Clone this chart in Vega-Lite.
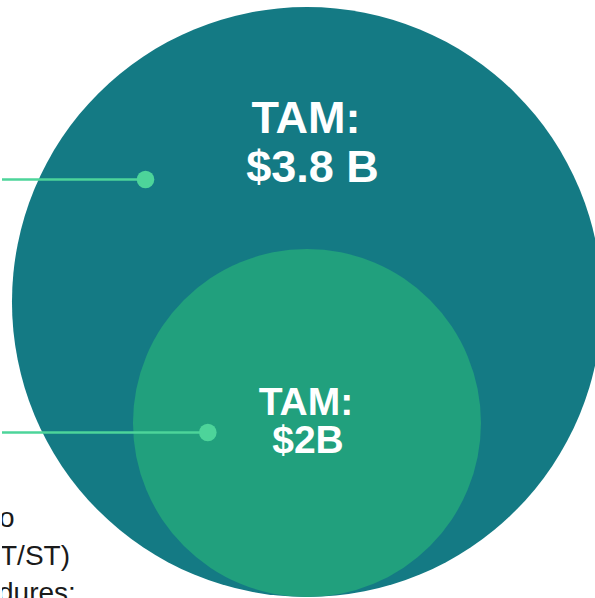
{
  "$schema": "https://vega.github.io/schema/vega-lite/v6.json",
  "width": 595,
  "height": 598,
  "autosize": {"type": "fit", "contains": "padding"},
  "padding": 0,
  "background": "white",
  "config": {"view": {"stroke": null}},
  "datasets": {
    "circles": [
      {"market": "Total", "x": 306, "y": 302},
      {"market": "Segment", "x": 306, "y": 423}
    ],
    "callouts": [
      {"market": "Total", "x0": 0, "x": 144, "y": 179.5},
      {"market": "Segment", "x0": 0, "x": 206.5, "y": 432.5}
    ],
    "labels": [
      {"market": "Total", "text": "TAM:", "x": 305, "y": 133},
      {"market": "Total", "text": "$3.8 B", "x": 311.5, "y": 182},
      {"market": "Segment", "text": "TAM:", "x": 305, "y": 415},
      {"market": "Segment", "text": "$2B", "x": 307, "y": 453}
    ],
    "notes": [
      {"text": "o", "x": -3, "y": 527},
      {"text": "T/ST)", "x": -2, "y": 565},
      {"text": "dures:", "x": -4, "y": 602}
    ]
  },
  "encoding": {
    "x": {"field": "x", "type": "quantitative", "scale": {"domain": [0, 595]}, "axis": null},
    "y": {"field": "y", "type": "quantitative", "scale": {"domain": [0, 598], "reverse": true}, "axis": null}
  },
  "layer": [
    {
      "data": {"name": "circles"},
      "transform": [{"filter": "datum.market === 'Total'"}],
      "mark": {"type": "point", "shape": "circle", "filled": true, "opacity": 1, "color": "#147A84", "size": 348100, "strokeWidth": 0, "clip": true}
    },
    {
      "data": {"name": "circles"},
      "transform": [{"filter": "datum.market === 'Segment'"}],
      "mark": {"type": "point", "shape": "circle", "filled": true, "opacity": 1, "color": "#21A07D", "size": 121104, "strokeWidth": 0, "clip": true}
    },
    {
      "data": {"name": "callouts"},
      "mark": {"type": "rule", "color": "#4DD49A", "strokeWidth": 2.5},
      "encoding": {
        "x": {"field": "x0", "type": "quantitative", "scale": {"domain": [0, 595]}, "axis": null},
        "x2": {"field": "x"}
      }
    },
    {
      "data": {"name": "callouts"},
      "mark": {"type": "point", "shape": "circle", "filled": true, "opacity": 1, "color": "#4DD49A", "size": 310, "strokeWidth": 0}
    },
    {
      "data": {"name": "labels"},
      "transform": [{"filter": "datum.market === 'Total'"}],
      "mark": {"type": "text", "font": "Liberation Sans", "fontWeight": "bold", "fontSize": 45, "color": "white", "align": "center", "baseline": "alphabetic"},
      "encoding": {"text": {"field": "text"}}
    },
    {
      "data": {"name": "labels"},
      "transform": [{"filter": "datum.market === 'Segment'"}],
      "mark": {"type": "text", "font": "Liberation Sans", "fontWeight": "bold", "fontSize": 39, "color": "white", "align": "center", "baseline": "alphabetic"},
      "encoding": {"text": {"field": "text"}}
    },
    {
      "data": {"name": "notes"},
      "mark": {"type": "text", "font": "Liberation Sans", "fontSize": 28, "color": "#1a1a1a", "align": "left", "baseline": "alphabetic", "clip": true},
      "encoding": {"text": {"field": "text"}}
    }
  ]
}
